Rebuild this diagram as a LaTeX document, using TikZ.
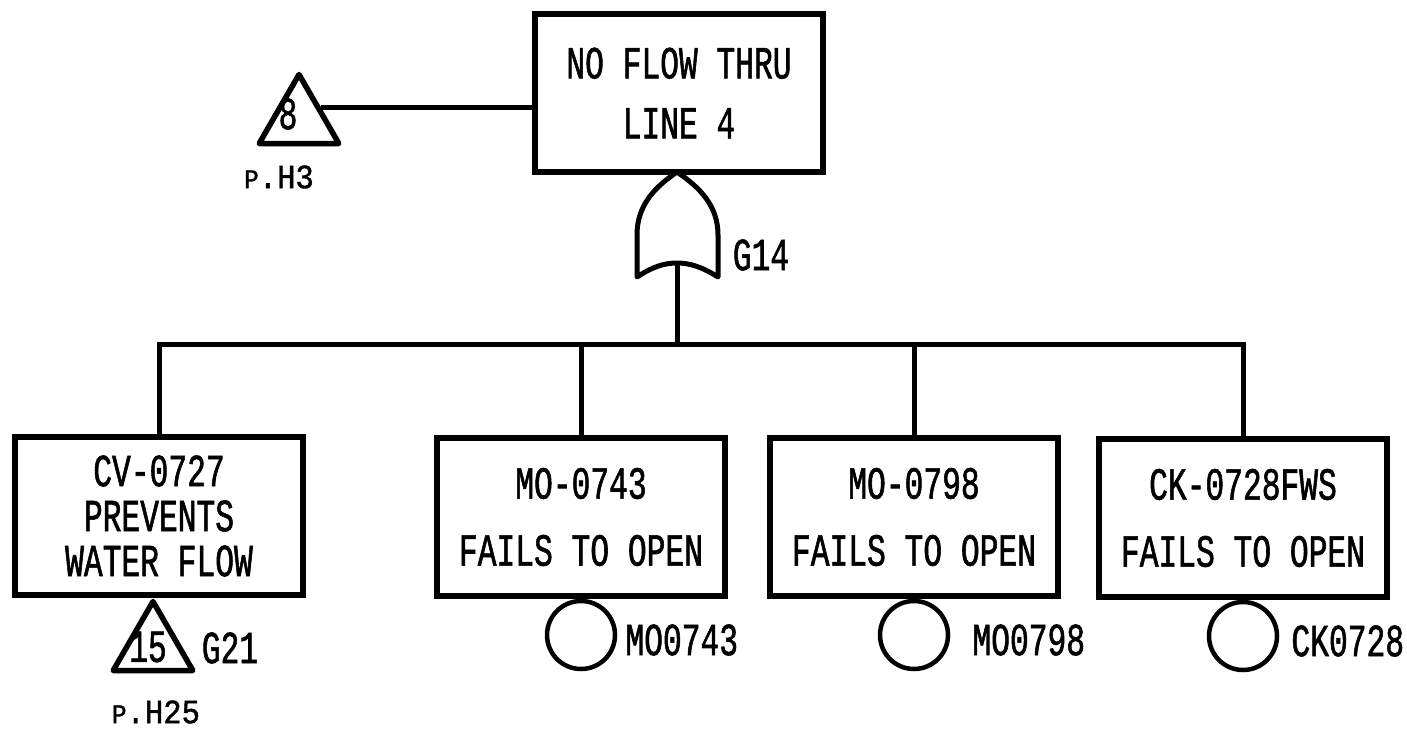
\documentclass[tikz,border=0pt]{standalone}
\usepackage{fontspec}
\newfontfamily\plotfont{Liberation Mono}[FakeStretch=0.68, FakeBold=1.2]
\newfontfamily\pagefont{Liberation Mono}[FakeStretch=0.9, FakeBold=1.2]
\usetikzlibrary{shapes.geometric,positioning}

\begin{document}
\begin{tikzpicture}[x=1pt, y=-1pt,
  event/.style={draw, line width=5.5pt, minimum width=288pt, minimum height=158pt,
    inner sep=0pt, align=center, font=\plotfont\fontsize{46}{67}\selectfont},
  xfer/.style={draw, line width=5.5pt, regular polygon, regular polygon sides=3,
    minimum size=92pt, inner sep=0pt, line join=round},
  basic/.style={draw, circle, line width=4.5pt, minimum size=68pt, inner sep=0pt},
  tag/.style={font=\plotfont\fontsize{46}{46}\selectfont, inner sep=0pt},
  page/.style={font=\pagefont\fontsize{34}{34}\selectfont, inner sep=0pt},
  wire/.style={line width=5pt}]
  \useasboundingbox (0,0) rectangle (1407,733);

  % top event and OR gate
  \node[event, font=\plotfont\fontsize{46}{60}\selectfont] (top) at (679,93) {NO FLOW THRU\\LINE 4};
  \coordinate (g14top) at (677,172);
  \coordinate (g14in) at (677,263);
  \coordinate (bus) at (677,344);
  \draw[wire, line join=round] (637,277) -- (637,235) .. controls (637,205) and (655,187) .. (g14top)
    .. controls (699,187) and (718,205) .. (718,235) -- (718,277)
    .. controls (702,267) and (690,263) .. (g14in) .. controls (664,263) and (652,267) .. (637,277) -- cycle;
  \node[tag] (g14) at (761,255) {G14};

  % transfer in
  \node[xfer, anchor=corner 1] (tri8) at (299,69) {};
  \node[tag] (n8) at (288,114) {8};
  \node[page] (ph3) at (279,177) {{\fontsize{27}{27}\selectfont P}.H3};
  \draw[wire] (tri8.side 3) -- (tri8.side 3 -| top.west);

  % inputs
  \node[event, font=\plotfont\fontsize{46}{45}\selectfont] (cv727) at (159,516) {CV-0727\\PREVENTS\\WATER FLOW};
  \node[event] (mo743) at (581,517) {MO-0743\\FAILS TO OPEN};
  \node[event] (mo798) at (914,517) {MO-0798\\FAILS TO OPEN};
  \node[event] (ck728) at (1243,518) {CK-0728FWS\\FAILS TO OPEN};
  \draw[wire] (g14in) -- (bus);
  \foreach \n in {cv727, mo743, mo798, ck728}
    \draw[wire] (bus) -| (\n.north);

  % transfer to G21
  \node[xfer, anchor=corner 1] (tri15) at (153,596) {};
  \node[tag] (n15) at (148,647) {15};
  \node[tag] (g21) at (230,648) {G21};
  \node[page] (ph25) at (156,712) {{\fontsize{27}{27}\selectfont P}.H25};

  % basic events
  \node[basic, anchor=north] (e743) at (mo743.south) {};
  \node[basic, anchor=north] (e798) at (mo798.south) {};
  \node[basic, anchor=north] (e728) at (ck728.south) {};
  \node[tag, right=8pt of e743, yshift=-5pt] (l743) {MO0743};
  \node[tag, right=22pt of e798, yshift=-5pt] (l798) {MO0798};
  \node[tag, right=12pt of e728, yshift=-5pt] (l728) {CK0728};
\end{tikzpicture}
\end{document}
